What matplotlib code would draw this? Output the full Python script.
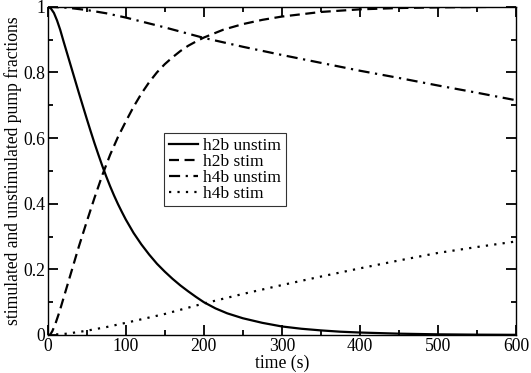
import matplotlib
matplotlib.use("Agg")
import matplotlib.pyplot as plt
from matplotlib.ticker import MultipleLocator

plt.rcParams['font.family'] = ['Liberation Serif', 'DejaVu Serif']

# values
t_h2b_unstim = [0, 4, 8, 12, 16, 20, 25, 30, 35, 40, 45, 50, 55, 60, 65, 70, 75, 80, 85,
                90, 95, 100, 110, 120, 130, 140, 150, 160, 170, 180, 190, 200, 215, 230,
                250, 275, 300, 325, 350, 375, 400, 450, 500, 550, 600]
h2b_unstim = [1.0, 0.995, 0.981, 0.958, 0.93, 0.897, 0.857, 0.817, 0.777, 0.737, 0.698,
              0.659, 0.621, 0.584, 0.549, 0.515, 0.483, 0.453, 0.425, 0.399, 0.375, 0.352,
              0.311, 0.276, 0.245, 0.217, 0.193, 0.171, 0.151, 0.133, 0.116, 0.1, 0.081,
              0.066, 0.051, 0.037, 0.026, 0.019, 0.014, 0.01, 0.0075, 0.004, 0.002, 0.001,
              0.0005]

t_h2b_stim = [0, 3, 6, 10, 15, 20, 25, 30, 40, 50, 60, 70, 80, 90, 100, 110, 120, 130,
              140, 150, 160, 170, 180, 190, 200, 225, 250, 275, 300, 350, 400, 450, 500,
              550, 600]
h2b_stim = [0.0, 0.0, 0.012, 0.035, 0.07, 0.11, 0.15, 0.19, 0.27, 0.345, 0.418, 0.487,
            0.549, 0.603, 0.65, 0.695, 0.735, 0.77, 0.8, 0.825, 0.846, 0.865, 0.881, 0.894,
            0.906, 0.93, 0.947, 0.96, 0.97, 0.984, 0.992, 0.996, 0.998, 0.999, 1.0]

t_h4b = [0, 25, 50, 75, 100, 150, 200, 250, 300, 350, 400, 450, 500, 550, 600]
h4b_unstim = [1.0, 0.997, 0.99, 0.98, 0.967, 0.937, 0.905, 0.878, 0.853, 0.829, 0.805,
              0.783, 0.76, 0.738, 0.715]
h4b_stim = [0.0, 0.004, 0.013, 0.024, 0.037, 0.064, 0.096, 0.125, 0.152, 0.178, 0.203,
            0.227, 0.25, 0.268, 0.285]

fig = plt.figure(figsize=(5.31, 3.73), dpi=100)
ax = fig.add_axes([0.0898, 0.1019, 0.8820, 0.8801])

lw = 1.6
ax.plot(t_h2b_unstim, h2b_unstim, color='black', lw=lw, linestyle='-', label='h2b unstim')
ax.plot(t_h2b_stim, h2b_stim, color='black', lw=lw, linestyle=(0, (4.5, 2.5)), label='h2b stim')
ax.plot(t_h4b, h4b_unstim, color='black', lw=lw, linestyle=(0, (5, 2.5, 1, 2.5)),
        label='h4b unstim')
ax.plot(t_h4b, h4b_stim, color='black', lw=lw, linestyle=(0, (1, 2.8)), label='h4b stim')

ax.set_xlim(0, 600)
ax.set_ylim(0, 1)
ax.set_xticks([0, 100, 200, 300, 400, 500, 600])
ax.set_yticks([0, 0.2, 0.4, 0.6, 0.8, 1.0])
ax.set_yticklabels(['0', '0.2', '0.4', '0.6', '0.8', '1'])
ax.xaxis.set_minor_locator(MultipleLocator(50))
ax.yaxis.set_minor_locator(MultipleLocator(0.1))
ax.tick_params(which='both', direction='in', top=True, right=True,
               color='black', labelsize=12.7, pad=2)
ax.tick_params(which='major', length=7.5, width=1.3)
ax.tick_params(which='minor', length=3.8, width=1.3)
for s in ax.spines.values():
    s.set_linewidth(1.0)

ax.set_xlabel('time (s)', fontsize=12.7, labelpad=0)
ax.set_ylabel('stimulated and unstimulated pump fractions', fontsize=12.7, labelpad=1)

leg = ax.legend(loc='upper left', bbox_to_anchor=(0.249, 0.615), fontsize=12.5,
                frameon=True, fancybox=False, handlelength=1.7, handletextpad=0.3,
                borderpad=0.25, labelspacing=0.0, borderaxespad=0)
leg.get_frame().set_edgecolor('black')
leg.get_frame().set_linewidth(0.8)

fig.savefig('out.png', dpi=100)
